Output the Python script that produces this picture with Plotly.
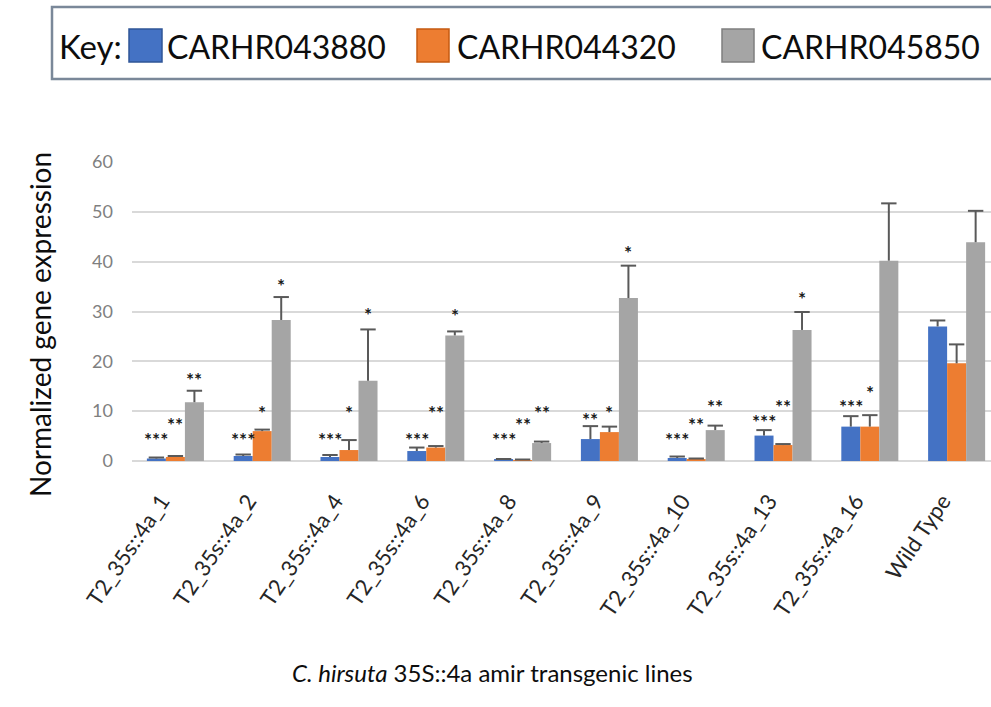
import plotly.graph_objects as go

categories = ["T2_35s::4a_1", "T2_35s::4a_2", "T2_35s::4a_4", "T2_35s::4a_6", "T2_35s::4a_8",
              "T2_35s::4a_9", "T2_35s::4a_10", "T2_35s::4a_13", "T2_35s::4a_16", "Wild Type"]
series_names = ["CARHR043880", "CARHR044320", "CARHR045850"]

blue = [0.5, 1.0, 0.8, 2.0, 0.3, 4.4, 0.6, 5.1, 6.9, 27.0]
blue_err = [0.2, 0.3, 0.4, 0.7, 0.1, 2.6, 0.3, 1.1, 2.1, 1.2]
orange = [0.8, 6.0, 2.2, 2.7, 0.2, 5.8, 0.4, 3.2, 6.9, 19.6]
orange_err = [0.2, 0.3, 2.0, 0.3, 0.1, 1.1, 0.1, 0.2, 2.3, 3.8]
gray = [11.8, 28.3, 16.1, 25.2, 3.6, 32.7, 6.2, 26.3, 40.2, 43.9]
gray_err = [2.3, 4.6, 10.3, 0.8, 0.3, 6.5, 0.9, 3.6, 11.5, 6.3]

blue_sig = ["***", "***", "***", "***", "***", "**", "***", "***", "***", ""]
blue_sig_y = [5.6, 5.6, 5.6, 5.6, 5.6, 9.6, 5.6, 9.1, 12.1, None]
orange_sig = ["**", "*", "*", "**", "**", "*", "**", "**", "*", ""]
orange_sig_y = [8.6, 11.0, 11.0, 11.0, 8.6, 11.0, 8.6, 12.1, 14.9, None]
gray_sig = ["**", "*", "*", "*", "**", "*", "**", "*", "", ""]
gray_sig_y = [17.5, 36.5, 30.7, 30.5, 10.9, 43.0, 12.1, 33.8, None, None]

y_ticks = [0, 10, 20, 30, 40, 50, 60]

colors = ["#4472C4", "#ED7D31", "#A5A5A5"]
edge_colors = ["#2F5597", "#C55A11", "#7F7F7F"]
FONT = "Lato"

# layout geometry (pixels)
W, H = 991, 707
PL, PR, PT, PB = 132, 991, 162, 461
BARGAP = 0.343
bw = (1 - BARGAP) / 3


def px_x(p):
    return (p - PL) / (PR - PL)


def px_y(p):
    return (PB - p) / (PB - PT)


xs = list(range(len(categories)))
vals = [blue, orange, gray]
errs = [blue_err, orange_err, gray_err]
sigs = [blue_sig, orange_sig, gray_sig]
sig_ys = [blue_sig_y, orange_sig_y, gray_sig_y]

fig = go.Figure()
for k in range(3):
    fig.add_trace(go.Bar(x=xs, y=vals[k], name=series_names[k],
                         marker=dict(color=colors[k], line=dict(width=0)),
                         showlegend=False))

# error bars (plus direction only)
for k in range(3):
    ex, ey, cx, cy = [], [], [], []
    for i in xs:
        xp = i + (k - 1) * bw
        ex += [xp, xp, None]
        ey += [vals[k][i], vals[k][i] + errs[k][i], None]
        cx.append(xp)
        cy.append(vals[k][i] + errs[k][i])
    fig.add_trace(go.Scatter(x=ex, y=ey, mode="lines",
                             line=dict(color="#595959", width=2),
                             showlegend=False, hoverinfo="skip"))
    fig.add_trace(go.Scatter(x=cx, y=cy, mode="markers",
                             marker=dict(symbol="line-ew", size=11,
                                         line=dict(color="#595959", width=2)),
                             showlegend=False, hoverinfo="skip"))

annotations = []
# significance stars
for k in range(3):
    for i in xs:
        if sigs[k][i]:
            annotations.append(dict(x=i + (k - 1) * bw, y=sig_ys[k][i], xref="x", yref="y",
                                    text="<b>" + sigs[k][i] + "</b>", showarrow=False, yshift=-6,
                                    font=dict(family=FONT, size=19, color="#1a1a1a")))

# axis titles
annotations.append(dict(x=px_x(21), y=px_y(325), xref="paper", yref="paper",
                        text="Normalized gene expression", textangle=-90, showarrow=False,
                        font=dict(family=FONT, size=28, color="#0d0d0d")))
annotations.append(dict(x=px_x(492), y=px_y(689), xref="paper", yref="paper",
                        text="<i>C. hirsuta</i> 35S::4a amir transgenic lines", showarrow=False,
                        font=dict(family=FONT, size=24, color="#0d0d0d")))

# key box
shapes = [dict(type="rect", xref="paper", yref="paper",
               x0=px_x(52), x1=px_x(1010), y0=px_y(79), y1=px_y(7),
               line=dict(color="#7A8899", width=2.5), fillcolor="white", layer="below")]
sq = [(129, 162), (417, 449), (722, 754)]
txt_x = [165, 455, 759]
annotations.append(dict(x=px_x(57), y=px_y(46), xref="paper", yref="paper", text="Key:",
                        xanchor="left", yanchor="middle", showarrow=False,
                        font=dict(family=FONT, size=33, color="#0d0d0d")))
for k in range(3):
    shapes.append(dict(type="rect", xref="paper", yref="paper",
                       x0=px_x(sq[k][0]), x1=px_x(sq[k][1]), y0=px_y(62), y1=px_y(29),
                       fillcolor=colors[k], line=dict(color=edge_colors[k], width=1.5)))
    annotations.append(dict(x=px_x(txt_x[k]), y=px_y(46), xref="paper", yref="paper",
                            text=series_names[k], xanchor="left", yanchor="middle",
                            showarrow=False, font=dict(family=FONT, size=32, color="#0d0d0d")))

fig.update_layout(
    width=W, height=H, autosize=False,
    margin=dict(l=PL, r=W - PR, t=PT, b=H - PB, pad=0),
    paper_bgcolor="white", plot_bgcolor="white",
    barmode="group", bargap=BARGAP, bargroupgap=0,
    showlegend=False,
    annotations=annotations, shapes=shapes,
    xaxis=dict(range=[-0.5, 9.396], tickmode="array", tickvals=xs, ticktext=categories,
               tickangle=-56, showgrid=False, zeroline=False, showline=False, ticks="",
               tickfont=dict(family=FONT, size=22, color="#262626"),
               ticklabelstandoff=22, ticklabelshift=-14),
    yaxis=dict(range=[0, 60], tickmode="array", tickvals=y_ticks,
               showgrid=True, gridcolor="#D9D9D9", gridwidth=1.5,
               zeroline=True, zerolinecolor="#D9D9D9", zerolinewidth=1.5,
               showline=False, ticks="",
               tickfont=dict(family=FONT, size=18, color="#7F7F7F"), ticklabelstandoff=18),
)

fig.write_html("out.html")
